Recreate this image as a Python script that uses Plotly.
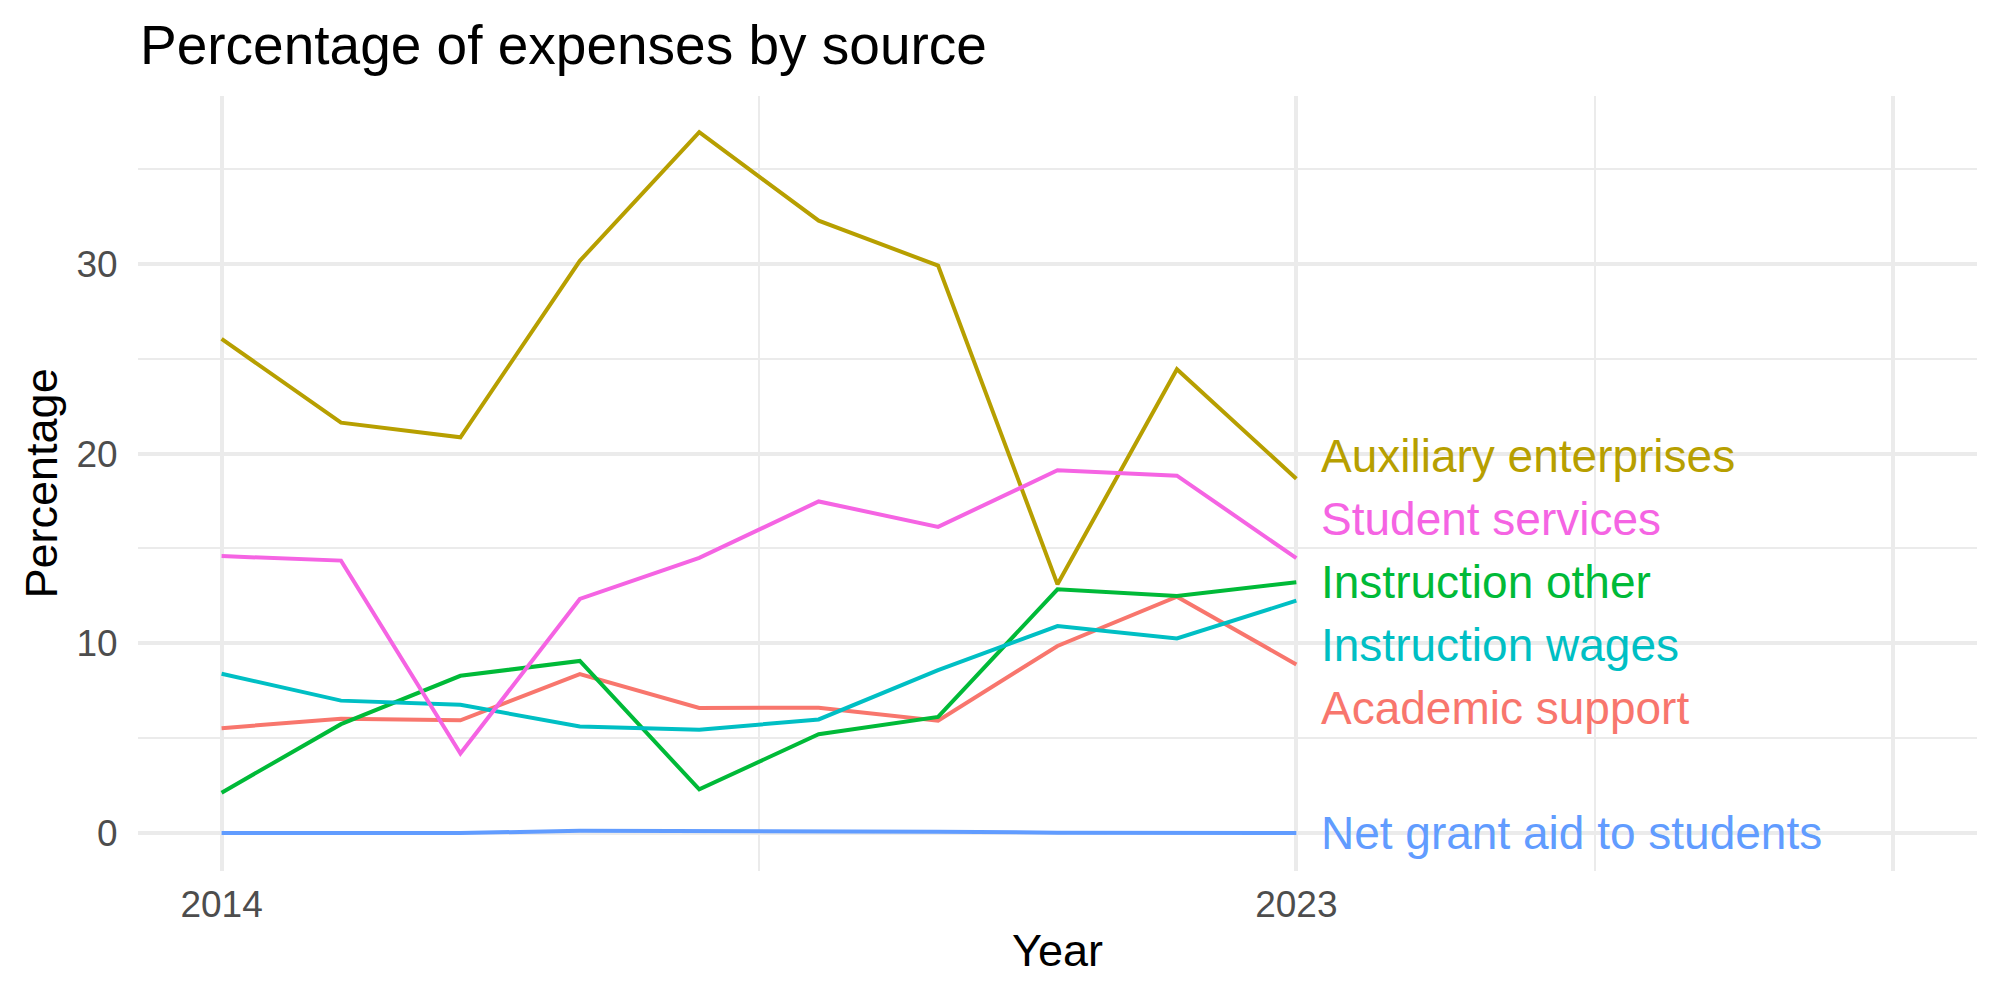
import plotly.graph_objects as go

years = list(range(2014, 2024))

series_names = [
    "Academic support",
    "Auxiliary enterprises",
    "Instruction other",
    "Instruction wages",
    "Net grant aid to students",
    "Student services",
]

academic_support = [5.53, 6.02, 5.94, 8.38, 6.59, 6.61, 5.92, 9.86, 12.46, 8.89]
auxiliary_enterprises = [26.05, 21.63, 20.86, 30.16, 36.94, 32.28, 29.91, 13.11, 24.45, 18.68]
instruction_other = [2.13, 5.74, 8.29, 9.07, 2.30, 5.21, 6.12, 12.85, 12.50, 13.22]
instruction_wages = [8.40, 6.98, 6.76, 5.62, 5.44, 5.99, 8.59, 10.91, 10.26, 12.25]
net_grant_aid = [0.0, 0.0, 0.0, 0.12, 0.12, 0.12, 0.07, 0.02, 0.0, 0.0]
student_services = [14.60, 14.36, 4.19, 12.34, 14.51, 17.48, 16.14, 19.12, 18.84, 14.49]

x_tick_vals = [2014, 2023, 2028]
x_tick_text = ["2014", "2023", ""]
x_minor_vals = [2018.5, 2025.5]
y_tick_vals = [0, 10, 20, 30]
y_minor_vals = [5, 15, 25, 35]

values = [academic_support, auxiliary_enterprises, instruction_other,
          instruction_wages, net_grant_aid, student_services]
colors = ["#F8766D", "#B79F00", "#00BA38", "#00BFC4", "#619CFF", "#F564E3"]

W, H = 2000, 1000
ML, MR, MT, MB = 138, 23, 96, 129
XR = [2013.3, 2028.7]
YR = [-2.0, 38.85]
FONT = "Liberation Sans, Arial, Helvetica, sans-serif"
LABEL_SIZE = 46
LABEL_GAP_PX = 63

fig = go.Figure()
for name, vals, col in zip(series_names, values, colors):
    fig.add_trace(go.Scatter(x=years, y=vals, mode="lines", name=name,
                             line=dict(color=col, width=4), showlegend=False))

# simple 1-D label repel for the end labels (merge overlapping clusters)
plot_h = H - MT - MB
gap = LABEL_GAP_PX * (YR[1] - YR[0]) / plot_h
ends = sorted([(v[-1], i) for i, v in enumerate(values)], reverse=True)


def median(xs):
    s = sorted(xs)
    n = len(s)
    return s[n // 2] if n % 2 else (s[n // 2 - 1] + s[n // 2]) / 2


clusters = [[e] for e in ends]
changed = True
while changed:
    changed = False
    for k in range(len(clusters) - 1):
        a, b = clusters[k], clusters[k + 1]
        ca, cb = median([m[0] for m in a]), median([m[0] for m in b])
        bottom_a = ca - gap * (len(a) - 1) / 2
        top_b = cb + gap * (len(b) - 1) / 2
        if bottom_a - top_b < gap:
            clusters[k] = a + b
            del clusters[k + 1]
            changed = True
            break

label_pos = {}
for cl in clusters:
    n = len(cl)
    center = median([m[0] for m in cl])
    for k, (val, idx) in enumerate(cl):
        label_pos[idx] = center + gap * ((n - 1) / 2 - k)

for idx, name in enumerate(series_names):
    fig.add_annotation(x=years[-1] + 0.19, y=label_pos[idx], text=name,
                       xref="x", yref="y", xanchor="left", yanchor="middle",
                       showarrow=False,
                       font=dict(family=FONT, size=LABEL_SIZE, color=colors[idx]))

fig.add_annotation(text="Year", xref="paper", yref="paper",
                   x=0.5, y=-(950 - (H - MB)) / plot_h, xanchor="center", yanchor="middle",
                   showarrow=False, font=dict(family=FONT, size=45, color="black"))
fig.add_annotation(text="Percentage", xref="paper", yref="paper",
                   x=-(ML - 41) / (W - ML - MR), y=0.5, xanchor="center", yanchor="middle",
                   textangle=-90, showarrow=False,
                   font=dict(family=FONT, size=45, color="black"))

fig.update_layout(
    width=W, height=H,
    margin=dict(l=ML, r=MR, t=MT, b=MB),
    paper_bgcolor="white", plot_bgcolor="white",
    title=dict(text="Percentage of expenses by source", x=140 / W, xanchor="left",
               xref="container", yref="container", y=1 - 45 / H, yanchor="middle",
               font=dict(family=FONT, size=55, color="black")),
    xaxis=dict(range=XR, tickvals=x_tick_vals, ticktext=x_tick_text,
               showgrid=True, gridcolor="#EBEBEB", gridwidth=3.5, zeroline=False,
               showline=False, ticks="outside", ticklen=1, tickcolor="rgba(0,0,0,0)",
               tickfont=dict(family=FONT, size=37, color="#4D4D4D"),
               minor=dict(tickvals=x_minor_vals, showgrid=True, gridcolor="#EBEBEB", gridwidth=2)),
    yaxis=dict(range=YR, tickvals=y_tick_vals,
               showgrid=True, gridcolor="#EBEBEB", gridwidth=3.5, zeroline=False,
               showline=False, ticks="outside", ticklen=12, tickcolor="rgba(0,0,0,0)",
               tickfont=dict(family=FONT, size=37, color="#4D4D4D"),
               minor=dict(tickvals=y_minor_vals, showgrid=True, gridcolor="#EBEBEB", gridwidth=2)),
)

fig.write_html("out.html")
